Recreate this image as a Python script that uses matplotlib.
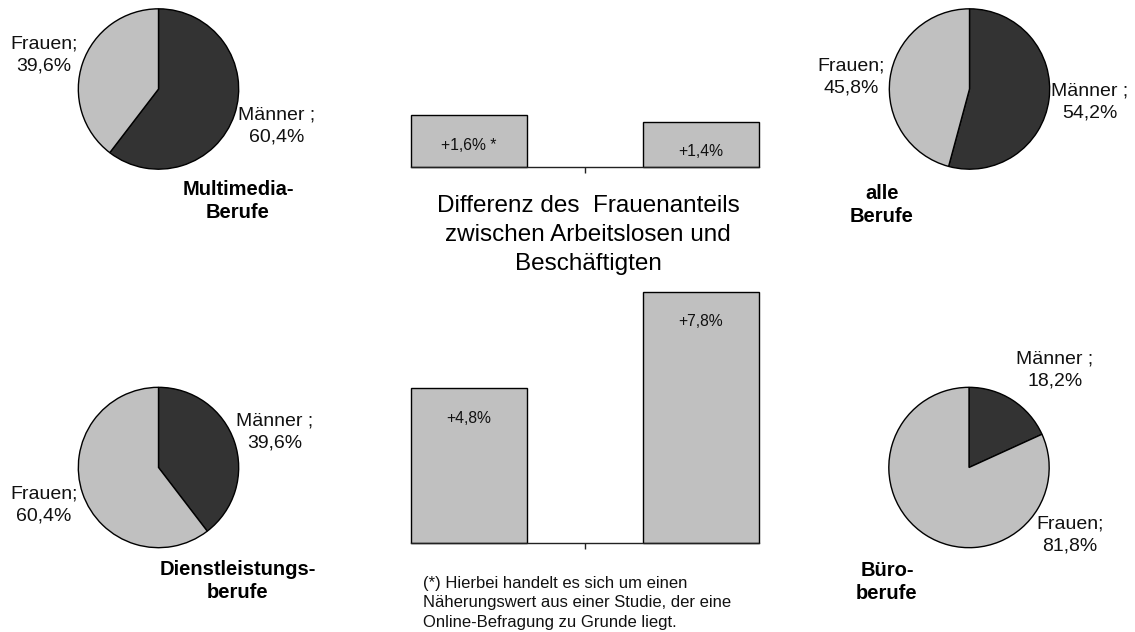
import matplotlib
matplotlib.use("Agg")
import matplotlib.pyplot as plt

# ---------------- data ----------------
pie_titles = ["Multimedia-\nBerufe", "alle\nBerufe", "Dienstleistungs-\nberufe", "Büro-\nberufe"]
maenner = [60.4, 54.2, 39.6, 18.2]
frauen = [39.6, 45.8, 60.4, 81.8]
slice_names = ["Männer ;", "Frauen;"]

bar_top_values = [1.6, 1.4]
bar_top_labels = ["+1,6% *", "+1,4%"]
bar_bottom_values = [4.8, 7.8]
bar_bottom_labels = ["+4,8%", "+7,8%"]

center_title = "Differenz des  Frauenanteils\nzwischen Arbeitslosen und\nBeschäftigten"
footnote = ("(*) Hierbei handelt es sich um einen\n"
            "Näherungswert aus einer Studie, der eine\n"
            "Online-Befragung zu Grunde liegt.")

# ---------------- style ----------------
DARK = "#333333"
LIGHT = "#c0c0c0"
FONT = ["Liberation Sans", "DejaVu Sans"]
plt.rcParams["font.family"] = FONT

W, H = 1135, 632
fig = plt.figure(figsize=(W / 100, H / 100), dpi=100)
fig.patch.set_facecolor("white")


def fx(x):
    return x / W


def fy(y):
    return 1 - y / H


def fmt(v):
    return f"{v:.1f}".replace(".", ",") + "%"


# pie layout: centre (px), radius, label positions (px)
pie_layout = [
    dict(c=(158.5, 89), m=(277, 126), f=(44, 55), t=(238, 201)),
    dict(c=(969.5, 89), m=(1090, 102), f=(851, 77), t=(882, 205)),
    dict(c=(158.5, 467.5), m=(275, 432), f=(44, 505), t=(237.5, 581)),
    dict(c=(969, 467.5), m=(1055, 370), f=(1070, 535), t=(887, 582)),
]
R = 80.5

for i, lay in enumerate(pie_layout):
    cx, cy = lay["c"]
    ax = fig.add_axes([fx(cx - R), fy(cy + R), 2 * R / W, 2 * R / H])
    ax.pie([maenner[i], frauen[i]], colors=[DARK, LIGHT], startangle=90,
           counterclock=False,
           wedgeprops=dict(edgecolor="black", linewidth=1.0))
    ax.set_xlim(-1.004, 1.004)
    ax.set_ylim(-1.004, 1.004)
    ax.axis("off")
    mx, my = lay["m"]
    fx_, fy_ = lay["f"]
    tx, ty = lay["t"]
    fig.text(fx(mx), fy(my), f"{slice_names[0]}\n{fmt(maenner[i])}",
             ha="center", va="center", fontsize=14, color="#111111",
             multialignment="center", linespacing=1.42)
    fig.text(fx(fx_), fy(fy_), f"{slice_names[1]}\n{fmt(frauen[i])}",
             ha="center", va="center", fontsize=14, color="#111111",
             multialignment="center", linespacing=1.42)
    fig.text(fx(tx), fy(ty), pie_titles[i], ha="center", va="center",
             fontsize=14.5, fontweight="bold", multialignment="center",
             linespacing=1.22)

# ---------------- bars ----------------
PX_PER_UNIT = 32.2
bar_x = [0, 1]


def bar_axes(values, labels, base_y, top_y):
    ax = fig.add_axes([fx(411), fy(base_y), (759 - 411) / W, (base_y - top_y) / H])
    bars = ax.bar(bar_x, values, width=0.5, color=LIGHT, edgecolor="black", linewidth=1.0)
    for b in bars:
        b.set_clip_on(False)
    ax.set_xlim(-0.25, 1.25)
    ax.set_ylim(0, (base_y - top_y) / PX_PER_UNIT)
    for s in ["top", "right", "left"]:
        ax.spines[s].set_visible(False)
    ax.spines["bottom"].set_linewidth(1.0)
    ax.spines["bottom"].set_color("#222222")
    ax.set_yticks([])
    ax.set_xticks([0.5])
    ax.set_xticklabels([])
    ax.tick_params(axis="x", direction="out", length=4, width=1, color="#222222")
    ax.patch.set_alpha(0)
    for x, v, lab in zip(bar_x, values, labels):
        ax.annotate(lab, (x, v), xytext=(0, -21.5), textcoords="offset points",
                    ha="center", va="center", fontsize=11.3, color="#111111")
    return ax


bar_axes(bar_top_values, bar_top_labels, 167, 100)
bar_axes(bar_bottom_values, bar_bottom_labels, 543, 280)

fig.text(fx(588), fy(235), center_title, ha="center", va="center",
         fontsize=17.5, multialignment="center", linespacing=1.44)
fig.text(fx(423), fy(603), footnote, ha="left", va="center",
         fontsize=12, linespacing=1.37, color="#111111")

fig.savefig("out.png", dpi=100, facecolor="white")
